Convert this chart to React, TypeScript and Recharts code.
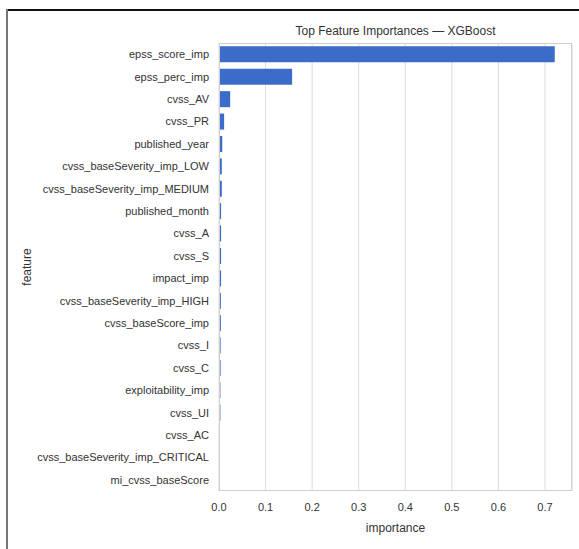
import { BarChart, Bar, XAxis, YAxis, CartesianGrid } from "recharts";

const FEATURES = [
  "epss_score_imp",
  "epss_perc_imp",
  "cvss_AV",
  "cvss_PR",
  "published_year",
  "cvss_baseSeverity_imp_LOW",
  "cvss_baseSeverity_imp_MEDIUM",
  "published_month",
  "cvss_A",
  "cvss_S",
  "impact_imp",
  "cvss_baseSeverity_imp_HIGH",
  "cvss_baseScore_imp",
  "cvss_I",
  "cvss_C",
  "exploitability_imp",
  "cvss_UI",
  "cvss_AC",
  "cvss_baseSeverity_imp_CRITICAL",
  "mi_cvss_baseScore",
];

const IMPORTANCE = [
  0.721, 0.157, 0.024, 0.011, 0.007, 0.006, 0.006, 0.0045, 0.0045, 0.0045,
  0.0045, 0.004, 0.004, 0.0035, 0.0035, 0.003, 0.003, 0, 0, 0,
];

const X_TICKS = [0, 0.1, 0.2, 0.3, 0.4, 0.5, 0.6, 0.7];

const data = FEATURES.map((feature, i) => ({ feature, importance: IMPORTANCE[i] }));

const FONT = "'Liberation Sans', Arial, sans-serif";
const TEXT = "#333";

export default function App() {
  return (
    <div
      style={{
        position: "fixed",
        top: 0,
        left: 0,
        width: 579,
        height: 549,
        background: "#fff",
        fontFamily: FONT,
      }}
    >
      {/* frame lines of the screenshot */}
      <div style={{ position: "absolute", left: 6, top: 9, width: 573, height: 1.5, background: "#111" }} />
      <div style={{ position: "absolute", left: 6, top: 9, width: 2, height: 540, background: "#777" }} />

      <div
        style={{
          position: "absolute",
          left: 219,
          width: 353,
          top: 24,
          textAlign: "center",
          fontSize: 12,
          color: TEXT,
        }}
      >
        Top Feature Importances — XGBoost
      </div>

      <div style={{ position: "absolute", left: 0, top: 0 }}>
        <BarChart
          width={579}
          height={549}
          data={data}
          layout="vertical"
          margin={{ top: 43, right: 7, bottom: 0, left: 0 }}
          barCategoryGap="15%"
        >
          <CartesianGrid horizontal={false} stroke="#dcdcdc" />
          <XAxis
            type="number"
            dataKey="importance"
            domain={[0, 0.758]}
            ticks={X_TICKS}
            tickFormatter={(v: number) => v.toFixed(1)}
            tickLine={false}
            axisLine={false}
            tickMargin={6}
            tick={{ fill: TEXT, fontSize: 11, fontFamily: FONT }}
            height={58}
            label={{
              value: "importance",
              position: "insideBottom",
              offset: 17,
              fill: TEXT,
              fontSize: 12,
              fontFamily: FONT,
            }}
          />
          <YAxis
            type="category"
            dataKey="feature"
            width={219}
            tickLine={false}
            axisLine={false}
            tickMargin={4}
            interval={0}
            tick={{ fill: TEXT, fontSize: 11, fontFamily: FONT }}
            label={{
              value: "feature",
              angle: -90,
              position: "insideLeft",
              offset: 27,
              textAnchor: "middle",
              fill: TEXT,
              fontSize: 12,
              fontFamily: FONT,
            }}
          />
          <Bar dataKey="importance" fill="#3b6cc9" isAnimationActive={false} />
        </BarChart>
      </div>

      <div
        style={{
          position: "absolute",
          left: 219,
          top: 43,
          width: 353,
          height: 448,
          border: "1px solid #cfcfcf",
          boxSizing: "border-box",
          pointerEvents: "none",
        }}
      />
    </div>
  );
}
